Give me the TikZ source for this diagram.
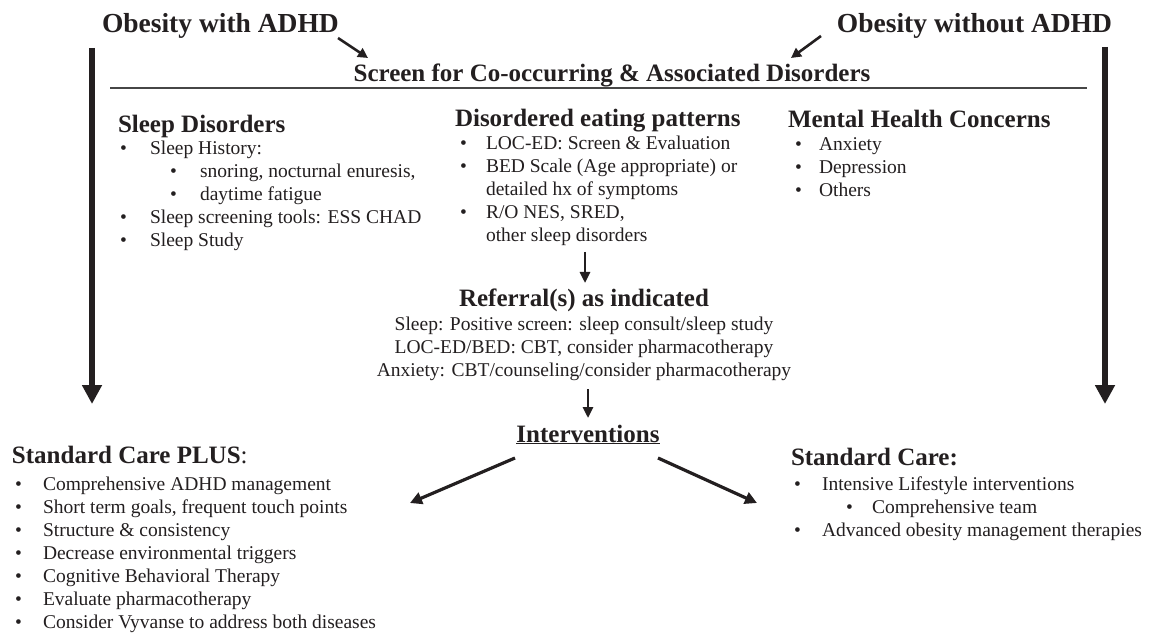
\documentclass[tikz,border=0pt]{standalone}
\usepackage{fontspec}
\setmainfont{Liberation Serif}
\usetikzlibrary{arrows.meta}
\definecolor{ink}{RGB}{35,31,32}
\definecolor{rulegray}{RGB}{70,70,70}
\begin{document}
\begin{tikzpicture}[x=1pt,y=-1pt,
  every node/.style={inner sep=0pt, outer sep=0pt, text=ink},
  ttl/.style={anchor=base west, font=\bfseries\fontsize{27.5}{30}\selectfont},
  hdr/.style={anchor=base west, font=\bfseries\fontsize{25}{28}\selectfont},
  hdrc/.style={anchor=base, font=\bfseries\fontsize{25}{28}\selectfont},
  body/.style={anchor=base west, font=\fontsize{19.5}{23}\selectfont},
  bodyc/.style={anchor=base, font=\fontsize{19.5}{23}\selectfont},
  bul/.style={anchor=base west, font=\fontsize{19.5}{23}\selectfont},
  bigarrow/.style={draw=ink, line width=6pt, -{Triangle[width=19pt,length=19pt]}},
  smallarrow/.style={draw=ink, line width=2.6pt, -{Triangle[width=10pt,length=10pt]}},
  midarrow/.style={draw=ink, line width=3.2pt, -{Triangle[width=12pt,length=12pt]}}
]
\useasboundingbox[fill=white] (0,0) rectangle (1149,636);

% titles
\node[ttl] (t1) at (102,33) {Obesity with ADHD};
\node[ttl, anchor=base east] (t2) at (1112,33) {Obesity without ADHD};
\node[hdrc] (scr) at (612,82) {Screen for Co-occurring \& Associated Disorders};
\coordinate (r1) at (110,88);
\coordinate (r2) at (1087,88);
\draw[rulegray, line width=1.5pt] (r1) -- (r2);

\coordinate (a1s) at (338,38); \coordinate (a1e) at (368,58);
\coordinate (a2s) at (821,36); \coordinate (a2e) at (791,58);
\draw[smallarrow] (a1s) -- (a1e);
\draw[smallarrow] (a2s) -- (a2e);

\coordinate (L1) at (92,48); \coordinate (L2) at (92,404);
\coordinate (R1) at (1105,47); \coordinate (R2) at (1105,404);
\draw[bigarrow] (L1) -- (L2);
\draw[bigarrow] (R1) -- (R2);

% Sleep disorders
\node[hdr] (sh) at (118,133) {Sleep Disorders};
\node[bul] (sb1) at (120,155) {\textbullet};
\node[body] (s1) at (150,155) {Sleep History:};
\node[bul] (sb2) at (170,178) {\textbullet};
\node[body] (s2) at (200,178) {snoring, nocturnal enuresis,};
\node[bul] (sb3) at (170,201) {\textbullet};
\node[body] (s3) at (200,201) {daytime fatigue};
\node[bul] (sb4) at (120,224) {\textbullet};
\node[body] (s4) at (150,224) {Sleep screening tools: ESS CHAD};
\node[bul] (sb5) at (120,247) {\textbullet};
\node[body] (s5) at (150,247) {Sleep Study};

% Disordered eating
\node[hdr] (dh) at (455,127) {Disordered eating patterns};
\node[bul] (db1) at (460,150) {\textbullet};
\node[body] (d1) at (486,150) {LOC-ED: Screen \& Evaluation};
\node[bul] (db2) at (460,173) {\textbullet};
\node[body] (d2) at (486,173) {BED Scale (Age appropriate) or};
\node[body] (d3) at (486,196) {detailed hx of symptoms};
\node[bul] (db4) at (460,219) {\textbullet};
\node[body] (d4) at (486,219) {R/O NES, SRED,};
\node[body] (d5) at (486,242) {other sleep disorders};

% Mental health
\node[hdr] (mh) at (788,128) {Mental Health Concerns};
\node[bul] (mb1) at (795,151) {\textbullet};
\node[body] (m1) at (819,151) {Anxiety};
\node[bul] (mb2) at (795,174) {\textbullet};
\node[body] (m2) at (819,174) {Depression};
\node[bul] (mb3) at (795,197) {\textbullet};
\node[body] (m3) at (819,197) {Others};

% Referrals
\coordinate (ra1) at (585,252); \coordinate (ra2) at (585,283);
\draw[midarrow, line width=2.6pt, -{Triangle[width=10pt,length=11pt]}] (ra1) -- (ra2);
\node[hdrc] (rh) at (584,307) {Referral(s) as indicated};
\node[bodyc] (r1t) at (584,331) {Sleep: Positive screen: sleep consult/sleep study};
\node[bodyc] (r2t) at (584,354) {LOC-ED/BED: CBT, consider pharmacotherapy};
\node[bodyc] (r3t) at (584,377) {Anxiety: CBT/counseling/consider pharmacotherapy};

\coordinate (ia1) at (588,389); \coordinate (ia2) at (588,418);
\draw[midarrow, line width=2.6pt, -{Triangle[width=10pt,length=11pt]}] (ia1) -- (ia2);
\node[hdrc] (iv) at (588,442) {\underline{Interventions}};

\coordinate (il1) at (515,458); \coordinate (il2) at (410,503);
\coordinate (ir1) at (658,458); \coordinate (ir2) at (757,503);
\draw[midarrow] (il1) -- (il2);
\draw[midarrow] (ir1) -- (ir2);

% Standard Care PLUS
\node[hdr] (ph) at (12,463) {Standard Care PLUS\textmd{:}};
\node[bul] (pb1) at (15,490) {\textbullet};
\node[body] (p1) at (43,490) {Comprehensive ADHD management};
\node[bul] (pb2) at (15,513) {\textbullet};
\node[body] (p2) at (43,513) {Short term goals, frequent touch points};
\node[bul] (pb3) at (15,536) {\textbullet};
\node[body] (p3) at (43,536) {Structure \& consistency};
\node[bul] (pb4) at (15,559) {\textbullet};
\node[body] (p4) at (43,559) {Decrease environmental triggers};
\node[bul] (pb5) at (15,582) {\textbullet};
\node[body] (p5) at (43,582) {Cognitive Behavioral Therapy};
\node[bul] (pb6) at (15,605) {\textbullet};
\node[body] (p6) at (43,605) {Evaluate pharmacotherapy};
\node[bul] (pb7) at (15,628) {\textbullet};
\node[body] (p7) at (43,628) {Consider Vyvanse to address both diseases};

% Standard Care
\node[hdr] (ch) at (791,465) {Standard Care:};
\node[bul] (cb1) at (794,490) {\textbullet};
\node[body] (c1) at (822,490) {Intensive Lifestyle interventions};
\node[bul] (cb2) at (846,513) {\textbullet};
\node[body] (c2) at (872,513) {Comprehensive team};
\node[bul] (cb3) at (794,536) {\textbullet};
\node[body] (c3) at (822,536) {Advanced obesity management therapies};
\end{tikzpicture}
\end{document}
